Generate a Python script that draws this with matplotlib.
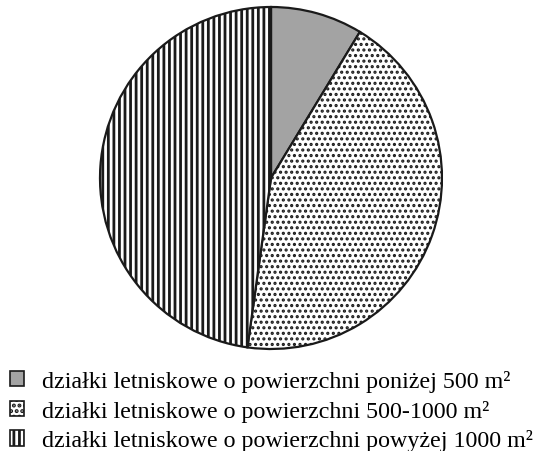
import matplotlib
matplotlib.use("Agg")
import matplotlib.pyplot as plt
from matplotlib.patches import Patch

plt.rcParams['font.family'] = ['Liberation Serif', 'DejaVu Serif']
plt.rcParams['hatch.linewidth'] = 2.0

# data
labels = ['działki letniskowe o powierzchni poniżej 500 m²',
          'działki letniskowe o powierzchni 500-1000 m²',
          'działki letniskowe o powierzchni powyżej 1000 m²']
shares = [8.7, 43.5, 47.8]

colors = ['#a3a3a3', 'white', 'white']
hatches = ['', '...', '|||']
hatch_lw = [1.0, 1.5, 2.0]

fig = plt.figure(figsize=(5.36, 4.52), dpi=100)
ax = fig.add_axes([100/536, (452-179-171)/452, 342/536, 342/452])

wedges, _ = ax.pie(shares, colors=colors, startangle=90, counterclock=False,
                   wedgeprops=dict(edgecolor='#1a1a1a', linewidth=1.6))
for w, h, lw in zip(wedges, hatches, hatch_lw):
    w.set_hatch(h)
    if hasattr(w, 'set_hatch_linewidth'):
        w.set_hatch_linewidth(lw)
ax.set_xlim(-1.0, 1.0)
ax.set_ylim(-1.0, 1.0)
ax.set_aspect('equal')
for w in wedges:
    w.set_clip_on(False)

handles = []
for c, h, lw in zip(colors, hatches, hatch_lw):
    p = Patch(facecolor=c, edgecolor='#1a1a1a', hatch=h, linewidth=1.2)
    if hasattr(p, 'set_hatch_linewidth'):
        p.set_hatch_linewidth(lw)
    handles.append(p)
fig.legend(handles, labels, loc='upper left', bbox_to_anchor=(10/536, 1 - 371/452),
           frameon=False, fontsize=17.3, handlelength=0.6, handleheight=0.6,
           handletextpad=0.75, labelspacing=0.32, borderaxespad=0, borderpad=0)

fig.savefig('out.png', dpi=100)
